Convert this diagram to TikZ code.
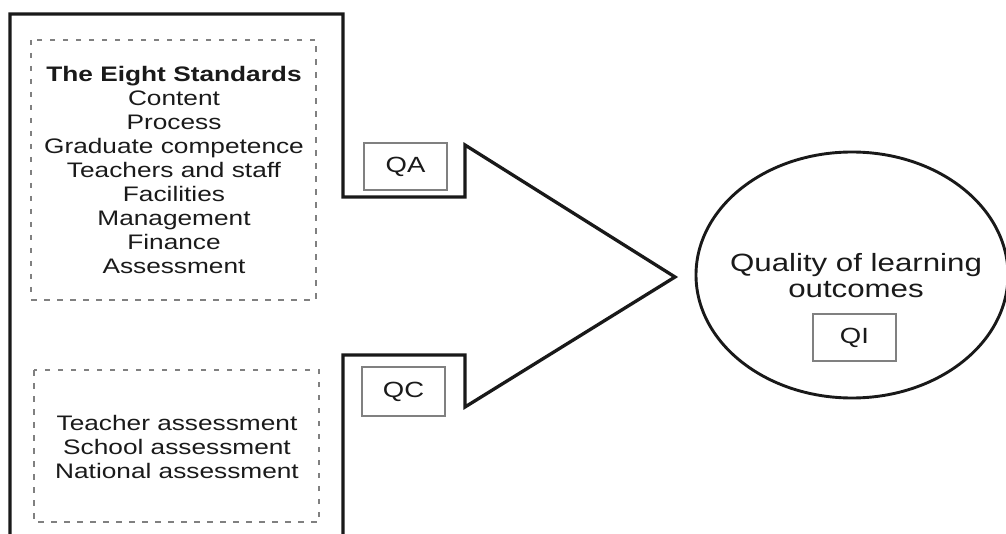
\documentclass[tikz,border=0pt]{standalone}
\usepackage{fontspec}
\setmainfont{Liberation Sans}[FakeStretch=1.25]
\usetikzlibrary{shapes.geometric}
\definecolor{txtc}{HTML}{1a1a1a}
\definecolor{boxc}{HTML}{808080}
\tikzset{
  thick line/.style={line width=3.3pt, draw=black!90, line join=miter},
  dashbox/.style={draw=boxc, line width=1.4pt, dash pattern=on 5.5pt off 7.5pt},
  labelbox/.style={draw=boxc, line width=1.6pt, minimum width=83pt, minimum height=47pt, inner sep=0pt, text=txtc, font=\fontsize{22}{24}\selectfont},
  blocktext/.style={align=center, text=txtc, inner sep=0pt},
}
\begin{document}
\begin{tikzpicture}[x=1pt,y=-1pt]
\useasboundingbox (0,0) rectangle (1006,534);
\clip (0,0) rectangle (1006,534);
% outer frame with arrow
\coordinate (bl) at (10,545);
\coordinate (tl) at (10,14);
\coordinate (tr) at (343,14);
\coordinate (qa1) at (343,197);
\coordinate (qa2) at (465,197);
\coordinate (up) at (465,145);
\coordinate (tip) at (675,277);
\coordinate (lo) at (465,407);
\coordinate (qc2) at (465,355);
\coordinate (qc1) at (343,355);
\coordinate (br) at (343,545);
\draw[thick line] (bl) -- (tl) -- (tr) -- (qa1) -- (qa2) -- (up) -- (tip) -- (lo) -- (qc2) -- (qc1) -- (br);
% dashed boxes
\draw[dashbox] (31,40) rectangle (316,300);
\draw[dashbox] (34,370) rectangle (319,522);
% texts
\node[blocktext, font=\fontsize{21}{24}\selectfont] (std) at (174,170)
  {\textbf{The Eight Standards}\\Content\\Process\\Graduate competence\\Teachers and staff\\Facilities\\Management\\Finance\\Assessment};
\node[blocktext, font=\fontsize{21}{24}\selectfont] (ass) at (177,447)
  {Teacher assessment\\School assessment\\National assessment};
% label boxes
\node[labelbox] (qa) at (405.5,166.5) {QA};
\node[labelbox, minimum height=49pt] (qc) at (403.5,391.5) {QC};
% ellipse
\node[ellipse, draw=black!90, line width=2.9pt, minimum width=312pt, minimum height=246pt, inner sep=0pt] (out) at (852,275) {};
\node[blocktext, font=\fontsize{25}{26}\selectfont] (qtext) at (856,276) {Quality of learning\\outcomes};
\node[labelbox] (qi) at (854.5,337.5) {QI};
\end{tikzpicture}
\end{document}
